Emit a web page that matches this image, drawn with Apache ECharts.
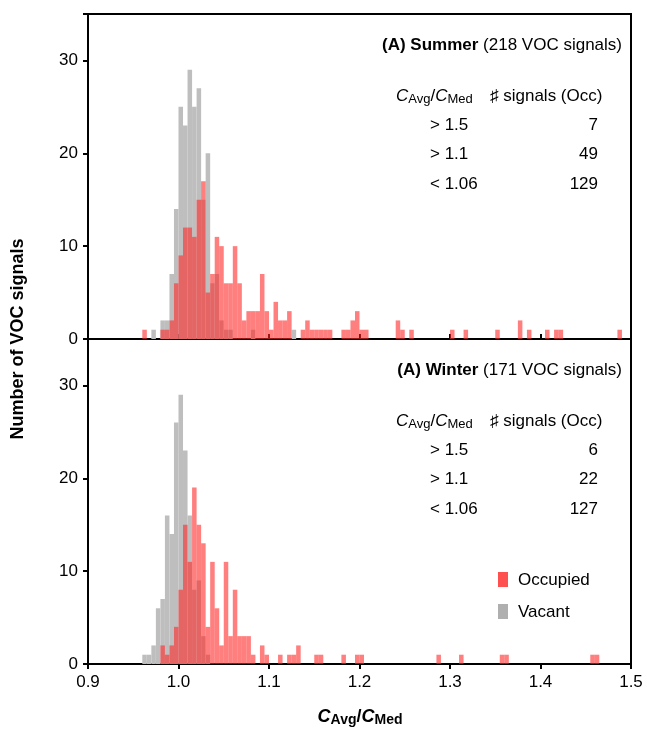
<!DOCTYPE html>
<html><head><meta charset="utf-8">
<script src="https://cdn.jsdelivr.net/npm/echarts@6/dist/echarts.min.js"></script>
<style>html,body{margin:0;padding:0;background:#fff}#c{width:647px;height:741px}</style>
</head><body><div id="c"></div>
<script>
// Bin width 0.005, first bin starts at 0.96
const binWidth = 0.005;
const firstBin = 0.96;
const summerOcc = [1,0,0,0,1,1,2,6,9,12,12,11,15,17,5,7,11,10,6,6,10,6,2,3,3,3,7,3,1,4,2,2,3,0,0,1,2,1,1,1,1,1,0,0,1,1,2,3,1,1,0,0,0,0,0,0,2,1,0,1,0,0,0,0,0,0,0,0,1,0,0,1,0,0,0,0,0,0,1,0,0,0,0,2,0,1,0,0,0,1,0,1,1,0,0,0,0,0,0,0,0,0,0,0,0,1];
const summerVac = [0,0,1,0,2,2,7,14,25,23,29,25,27,15,20,6,7,2,1,1,0,0,0,0,1,0,0,0,0,0,0,0,0,1];
const winterOcc = [0,0,0,0,2,1,2,4,8,15,11,19,15,13,4,11,6,2,11,3,8,3,3,3,1,0,2,1,0,0,1,0,1,1,2,0,0,0,1,1,0,0,0,0,1,0,0,1,1,0,0,0,0,0,0,0,0,0,0,0,0,0,0,0,0,1,0,0,0,0,1,0,0,0,0,0,0,0,0,1,1,0,0,0,0,0,0,0,0,0,0,0,0,0,0,0,0,0,0,1,1];
const winterVac = [1,1,2,6,7,16,14,26,29,23,16,8,9,3,1];
const yTicks = [0,10,20,30];
const summerTable = [['> 1.5','7'],['> 1.1','49'],['< 1.06','129']];
const winterTable = [['> 1.5','6'],['> 1.1','22'],['< 1.06','127']];

function toData(arr){return arr.map((v,i)=>[+(firstBin+i*binWidth).toFixed(4),v]).filter(d=>d[1]>0);}
function render(params, api){
  const s=api.value(0), v=api.value(1);
  const p0=api.coord([s,v]), p1=api.coord([s+binWidth,0]);
  return {type:'rect',shape:{x:p0[0],y:p0[1],width:p1[0]-p0[0],height:p1[1]-p0[1]},style:{fill:api.visual('color')}};
}
const RED='rgba(255,40,40,0.6)', GRAY='rgb(190,190,190)';
const chart=echarts.init(document.getElementById('c'));
const F='Liberation Sans, Arial, sans-serif';
function xAxis(idx,labels){return {type:'value',gridIndex:idx,min:0.9,max:1.5,interval:0.1,
  axisLine:{show:true,lineStyle:{color:'#000',width:2}},
  axisTick:{show:true,inside:!labels,length:5,lineStyle:{color:'#000',width:2}},
  axisLabel:{show:labels,color:'#000',fontSize:17,fontFamily:F,margin:10,formatter:v=>v.toFixed(1)},
  splitLine:{show:false}};}
function yAxis(idx){return {type:'value',gridIndex:idx,min:0,max:35,interval:10,
  axisLine:{show:true,lineStyle:{color:'#000',width:2}},
  axisTick:{show:true,length:5,lineStyle:{color:'#000',width:2}},
  axisLabel:{color:'#000',fontSize:17,fontFamily:F,margin:10,formatter:v=>yTicks.includes(v)?String(v):''},
  splitLine:{show:false}};}
const rich={t:{fontSize:17,fontFamily:F,fill:'#000'},b:{fontSize:17,fontFamily:F,fontWeight:'bold'},
  i:{fontSize:17,fontFamily:F,fontStyle:'italic'},s:{fontSize:13,fontFamily:F,verticalAlign:'bottom',padding:[6,0,0,0]}};
function text(x,y,str,align,extra){return Object.assign({type:'text',x:x,y:y,style:{text:str,fontSize:17,fontFamily:F,fill:'#000',textAlign:align||'left',textVerticalAlign:'middle',rich:rich}},extra||{});}
const g=[];
function panel(y0,title,count,table){
  g.push({type:'text',x:622,y:y0,style:{text:'{b|'+title+'} {t|('+count+' VOC signals)}',textAlign:'right',textVerticalAlign:'middle',rich:rich,fontSize:17,fontFamily:F}});
  g.push({type:'text',x:396,y:y0+51,style:{text:'{i|C}{s|Avg}{t|/}{i|C}{s|Med}',textVerticalAlign:'middle',rich:rich,fontSize:17,fontFamily:F}});
  g.push(text(490,y0+51,'\u266F signals (Occ)'));
  table.forEach((r,k)=>{g.push(text(430,y0+80+k*29.5,r[0]));g.push(text(598,y0+80+k*29.5,r[1],'right'));});
}
panel(45,'(A) Summer',218,summerTable);
panel(370,'(A) Winter',171,winterTable);
g.push({type:'rect',shape:{x:498,y:572,width:10,height:15},style:{fill:'rgb(255,80,80)'}});
g.push(text(518,580,'Occupied'));
g.push({type:'rect',shape:{x:498,y:604,width:10,height:15},style:{fill:'rgb(175,175,175)'}});
g.push(text(518,612,'Vacant'));
g.push({type:'text',x:18,y:339,rotation:Math.PI/2,style:{text:'Number of VOC signals',fontSize:18,fontWeight:'bold',fontFamily:F,fill:'#000',textAlign:'center',textVerticalAlign:'middle'}});
g.push({type:'text',x:360,y:717,style:{text:'{bi|C}{bs|Avg}{bt|/}{bi|C}{bs|Med}',textAlign:'center',textVerticalAlign:'middle',fontFamily:F,
  rich:{bi:{fontSize:18,fontWeight:'bold',fontStyle:'italic',fontFamily:F},bt:{fontSize:18,fontWeight:'bold',fontFamily:F},bs:{fontSize:14,fontWeight:'bold',fontFamily:F,verticalAlign:'bottom',padding:[7,0,0,0]}}}});
chart.setOption({
  animation:false,
  grid:[{left:88,right:16,top:14,height:325,show:true,borderColor:'#000',borderWidth:2},
        {left:88,right:16,top:339,height:325,show:true,borderColor:'#000',borderWidth:2}],
  xAxis:[xAxis(0,false),xAxis(1,true)],
  yAxis:[yAxis(0),yAxis(1)],
  series:[
    {type:'custom',name:'Vacant',xAxisIndex:0,yAxisIndex:0,renderItem:render,data:toData(summerVac),itemStyle:{color:GRAY},encode:{x:0,y:1}},
    {type:'custom',name:'Occupied',xAxisIndex:0,yAxisIndex:0,renderItem:render,data:toData(summerOcc),itemStyle:{color:RED},encode:{x:0,y:1}},
    {type:'custom',name:'Vacant',xAxisIndex:1,yAxisIndex:1,renderItem:render,data:toData(winterVac),itemStyle:{color:GRAY},encode:{x:0,y:1}},
    {type:'custom',name:'Occupied',xAxisIndex:1,yAxisIndex:1,renderItem:render,data:toData(winterOcc),itemStyle:{color:RED},encode:{x:0,y:1}}
  ],
  graphic:g
});
</script></body></html>
